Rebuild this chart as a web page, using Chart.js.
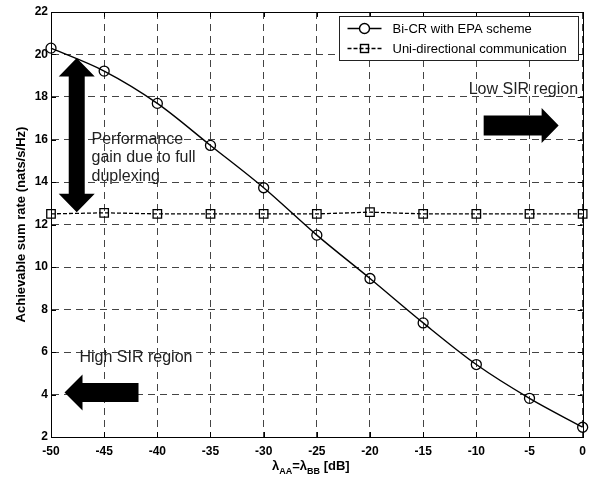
<!DOCTYPE html>
<html><head><meta charset="utf-8">
<script src="https://cdn.jsdelivr.net/npm/chart.js@4.4.1/dist/chart.umd.min.js"></script>
<style>html,body{margin:0;padding:0;background:#fff;} #c{display:block;}</style>
</head><body>
<canvas id="c" width="593" height="477"></canvas>
<script>
// ---- data ----
const lambdaDb = [-50, -45, -40, -35, -30, -25, -20, -15, -10, -5, 0];
const biCrEpa = [20.3, 19.22, 17.7, 15.72, 13.73, 11.5, 9.46, 7.37, 5.41, 3.82, 2.46];
const uniDirectional = [12.5, 12.55, 12.5, 12.5, 12.5, 12.5, 12.58, 12.5, 12.5, 12.5, 12.5];
const xTicks = [-50, -45, -40, -35, -30, -25, -20, -15, -10, -5, 0];
const yTicks = [2, 4, 6, 8, 10, 12, 14, 16, 18, 20, 22];
const seriesNames = ['Bi-CR with EPA scheme', 'Uni-directional communication'];
const yTitle = 'Achievable sum rate (nats/s/Hz)';
const xTitleParts = [['\u03BB', 0], ['AA', 1], ['=\u03BB', 0], ['BB', 1], [' [dB]', 0]];
const gainText = ['Performance', 'gain due to full', 'duplexing'];
const highText = 'High SIR region';
const lowText = 'Low SIR region';

const FONT = '"Liberation Sans", Arial, Helvetica, sans-serif';

const pairs = (xs, ys) => xs.map((x, i) => ({x, y: ys[i]}));

function arrowH(ctx, xTip, xTail, cy, headLen, headHalf, shaftHalf) {
  const d = xTip < xTail ? 1 : -1;
  const hb = xTip + d * headLen;
  ctx.beginPath();
  ctx.moveTo(xTip, cy);
  ctx.lineTo(hb, cy - headHalf);
  ctx.lineTo(hb, cy - shaftHalf);
  ctx.lineTo(xTail, cy - shaftHalf);
  ctx.lineTo(xTail, cy + shaftHalf);
  ctx.lineTo(hb, cy + shaftHalf);
  ctx.lineTo(hb, cy + headHalf);
  ctx.closePath();
  ctx.fill();
}
function arrowV2(ctx, cx, yTop, yBot, headLen, headHalf, shaftHalf) {
  ctx.beginPath();
  ctx.moveTo(cx, yTop);
  ctx.lineTo(cx + headHalf, yTop + headLen);
  ctx.lineTo(cx + shaftHalf, yTop + headLen);
  ctx.lineTo(cx + shaftHalf, yBot - headLen);
  ctx.lineTo(cx + headHalf, yBot - headLen);
  ctx.lineTo(cx, yBot);
  ctx.lineTo(cx - headHalf, yBot - headLen);
  ctx.lineTo(cx - shaftHalf, yBot - headLen);
  ctx.lineTo(cx - shaftHalf, yTop + headLen);
  ctx.lineTo(cx - headHalf, yTop + headLen);
  ctx.closePath();
  ctx.fill();
}

const decor = {
  id: 'decor',
  afterDraw(chart) {
    const ctx = chart.ctx, ca = chart.chartArea;
    const xs = chart.scales.x, ys = chart.scales.y;
    const X = v => xs.getPixelForValue(v), Y = v => ys.getPixelForValue(v);
    ctx.save();
    // inner ticks
    ctx.strokeStyle = '#000'; ctx.lineWidth = 1; ctx.setLineDash([]);
    ctx.beginPath();
    xTicks.forEach(v => {
      const p = Math.round(X(v)) + 0.5;
      ctx.moveTo(p, ca.bottom); ctx.lineTo(p, ca.bottom - 5);
      ctx.moveTo(p, ca.top); ctx.lineTo(p, ca.top + 5);
    });
    yTicks.forEach(v => {
      const p = Math.round(Y(v)) + 0.5;
      ctx.moveTo(ca.left, p); ctx.lineTo(ca.left + 5, p);
      ctx.moveTo(ca.right, p); ctx.lineTo(ca.right - 5, p);
    });
    ctx.stroke();
    // box
    ctx.strokeRect(Math.round(ca.left) + 0.5, Math.round(ca.top) + 0.5,
      Math.round(ca.right) - Math.round(ca.left), Math.round(ca.bottom) - Math.round(ca.top));

    // arrows
    ctx.fillStyle = '#000';
    arrowV2(ctx, X(-47.58), Y(19.84), Y(12.58), 18.5, 18, 8);
    arrowH(ctx, X(-48.73), X(-41.77), Y(4.09), 18, 18, 9.5);
    arrowH(ctx, X(-2.26), X(-9.31), Y(16.66), 17, 17.5, 10);

    // annotation text
    ctx.fillStyle = '#222';
    ctx.font = '16px ' + FONT;
    ctx.textAlign = 'left'; ctx.textBaseline = 'alphabetic';
    const gx = X(-46.19), gy = Y(15.81);
    gainText.forEach((t, i) => ctx.fillText(t, gx, gy + i * 18.5));
    ctx.fillText(highText, X(-47.32), Y(5.52));
    ctx.fillText(lowText, X(-10.72), Y(18.12));

    // legend
    const lw = 239, lh = 44;
    const lx = Math.round(ca.right) - 5 - lw + 0.5, ly = Math.round(ca.top) + 4 + 0.5;
    ctx.fillStyle = '#fff';
    ctx.fillRect(lx, ly, lw, lh);
    ctx.strokeStyle = '#222'; ctx.lineWidth = 1;
    ctx.strokeRect(lx, ly, lw, lh);
    ctx.strokeStyle = '#000';
    const rows = [ly + 12, ly + 32];
    const sx0 = lx + 8, sx1 = lx + 42, sc = lx + 25;
    // row 1
    ctx.lineWidth = 1.4; ctx.setLineDash([]);
    ctx.beginPath(); ctx.moveTo(sx0, rows[0]); ctx.lineTo(sx1, rows[0]); ctx.stroke();
    ctx.fillStyle = '#fff';
    ctx.beginPath(); ctx.arc(sc, rows[0], 5, 0, Math.PI * 2); ctx.fill(); ctx.stroke();
    // row 2
    ctx.lineWidth = 1.4; ctx.setLineDash([4, 2]);
    ctx.beginPath(); ctx.moveTo(sx0, rows[1]); ctx.lineTo(sx1, rows[1]); ctx.stroke();
    ctx.setLineDash([]);
    ctx.strokeRect(sc - 4, rows[1] - 4, 8, 8);
    ctx.fillStyle = '#000';
    ctx.font = '13px ' + FONT;
    ctx.textBaseline = 'middle';
    ctx.fillText(seriesNames[0], lx + 53, rows[0] + 1);
    ctx.fillText(seriesNames[1], lx + 53, rows[1] + 1);

    // x title with subscripts
    ctx.textBaseline = 'alphabetic';
    const mainF = 'bold 13px ' + FONT, subF = 'bold 9px ' + FONT;
    let total = 0;
    xTitleParts.forEach(([t, s]) => { ctx.font = s ? subF : mainF; total += ctx.measureText(t).width; });
    let cx = (ca.left + ca.right) / 2 - 6 - total / 2;
    const base = ca.bottom + 33;
    xTitleParts.forEach(([t, s]) => {
      ctx.font = s ? subF : mainF;
      ctx.fillText(t, cx, base + (s ? 4 : 0));
      cx += ctx.measureText(t).width;
    });
    ctx.restore();
  }
};

new Chart(document.getElementById('c'), {
  type: 'line',
  data: {
    datasets: [
      {
        label: seriesNames[0],
        data: pairs(lambdaDb, biCrEpa),
        borderColor: '#000', borderWidth: 1.4,
        pointStyle: 'circle', pointRadius: 5, pointBorderWidth: 1.3,
        pointBorderColor: '#000', pointBackgroundColor: 'rgba(255,255,255,0)',
        cubicInterpolationMode: 'monotone', fill: false, clip: false
      },
      {
        label: seriesNames[1],
        data: pairs(lambdaDb, uniDirectional),
        borderColor: '#000', borderWidth: 1.3, borderDash: [4, 2],
        pointStyle: 'rect', pointRadius: 6, pointBorderWidth: 1.3,
        pointBorderColor: '#000', pointBackgroundColor: 'rgba(255,255,255,0)',
        fill: false, clip: false
      }
    ]
  },
  options: {
    responsive: false, animation: false, devicePixelRatio: 1,
    layout: { padding: { top: 12, right: 10, left: 0, bottom: 0 } },
    plugins: { legend: { display: false }, tooltip: { enabled: false } },
    scales: {
      x: {
        type: 'linear', min: -50, max: 0,
        afterBuildTicks: s => { s.ticks = xTicks.map(v => ({ value: v })); },
        afterFit: s => { s.height = 40; },
        ticks: { color: '#000', font: { family: FONT, size: 12, weight: 'bold' }, padding: 7, maxRotation: 0, autoSkip: false },
        grid: { color: '#444', lineWidth: 1, drawTicks: false },
        border: { display: true, color: '#000', width: 1, dash: [7, 5] }
      },
      y: {
        type: 'linear', min: 2, max: 22,
        afterBuildTicks: s => { s.ticks = yTicks.map(v => ({ value: v })); },
        afterFit: s => { s.width = 51; },
        ticks: { color: '#000', font: { family: FONT, size: 12, weight: 'bold' }, padding: 3, autoSkip: false },
        grid: { color: '#444', lineWidth: 1, drawTicks: false },
        border: { display: true, color: '#000', width: 1, dash: [7, 5] },
        title: { display: true, text: yTitle, color: '#000', font: { family: FONT, size: 13, weight: 'bold' }, padding: { top: 14, bottom: 0 } }
      }
    }
  },
  plugins: [decor]
});
</script>
</body></html>
